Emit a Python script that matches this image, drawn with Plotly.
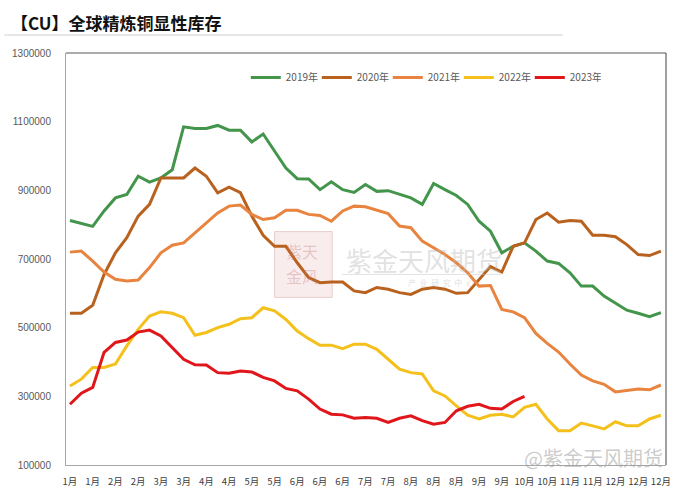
import plotly.graph_objects as go

weeks = list(range(53))
tick_labels = ["1月", "1月", "2月", "2月", "3月", "3月", "4月", "4月", "5月", "5月",
               "6月", "6月", "6月", "7月", "7月", "8月", "8月", "8月", "9月", "9月",
               "10月", "10月", "11月", "11月", "12月", "12月", "12月"]

y2019 = [812, 804, 795, 840, 878, 888, 941, 924, 936, 960, 1085, 1080, 1080, 1089, 1075, 1075,
         1041, 1064, 1014, 965, 934, 933, 902, 925, 902, 894, 917, 897, 899, 888, 878, 859,
         920, 902, 885, 859, 810, 781, 718, 737, 747, 723, 694, 687, 660, 621, 621, 592, 571,
         551, 542, 532, 544]
y2020 = [542, 542, 565, 655, 718, 762, 825, 859, 936, 936, 936, 965, 941, 893, 909, 893, 825,
         769, 737, 737, 689, 646, 631, 633, 633, 607, 602, 617, 612, 602, 597, 612, 617, 612,
         600, 602, 641, 678, 662, 737, 747, 815, 834, 807, 812, 810, 769, 769, 765, 742, 713,
         710, 723]
y2021 = [720, 723, 694, 662, 641, 636, 639, 675, 718, 740, 747, 776, 805, 834, 854, 857, 830,
         815, 820, 842, 842, 830, 827, 810, 840, 854, 852, 841, 832, 796, 791, 752, 733, 713,
         689, 660, 621, 623, 553, 546, 529, 483, 454, 429, 394, 362, 345, 335, 313, 318, 321,
         319, 333]
y2022 = [330, 350, 384, 384, 394, 447, 495, 534, 546, 542, 529, 478, 486, 500, 510, 526, 529,
         558, 549, 524, 490, 468, 449, 449, 439, 452, 452, 437, 408, 379, 369, 365, 316, 301,
         272, 245, 234, 245, 248, 240, 268, 277, 234, 200, 200, 222, 214, 205, 226, 214, 214,
         234, 245]
y2023 = [277, 309, 326, 428, 457, 464, 487, 493, 476, 442, 408, 392, 391, 369, 367, 374, 371,
         355, 345, 323, 316, 292, 263, 248, 246, 236, 238, 236, 224, 236, 243, 229, 219, 224,
         258, 271, 277, 265, 263, 285, 300]

series = [
    ("2019年", y2019, "#43954b"),
    ("2020年", y2020, "#b9621f"),
    ("2021年", y2021, "#e8843f"),
    ("2022年", y2022, "#f4c01c"),
    ("2023年", y2023, "#e0161b"),
]

fig = go.Figure()
for name, vals, color in series:
    fig.add_trace(go.Scatter(
        x=weeks[:len(vals)], y=[v * 1000 for v in vals], mode="lines", name=name,
        line=dict(color=color, width=3), hoverinfo="skip"))

cjk = "Noto Sans CJK SC, Liberation Sans, sans-serif"

fig.update_layout(
    width=684, height=500,
    margin=dict(l=62, r=18, t=53, b=34),
    paper_bgcolor="white", plot_bgcolor="white",
    font=dict(family=cjk, color="#595959", size=10),
    showlegend=True,
    legend=dict(orientation="h", x=(243 - 62) / 604, y=1 - 10 / 413, xanchor="left",
                yanchor="top", entrywidth=26, entrywidthmode="pixels", itemwidth=30,
                font=dict(size=10, color="#595959"), bgcolor="rgba(0,0,0,0)",
                tracegroupgap=0),
    xaxis=dict(range=[-0.35, 52.45], tickmode="array", tickvals=list(range(0, 53, 2)),
               ticktext=tick_labels, showgrid=False, zeroline=False, showline=True,
               linecolor="#a6a6a6", linewidth=1, ticks="", tickangle=0,
               ticklabelstandoff=8,
               tickfont=dict(size=9.5, color="#404040", family=cjk)),
    yaxis=dict(range=[100000, 1300000], tickmode="array",
               tickvals=list(range(100000, 1300001, 200000)),
               ticktext=[str(v) for v in range(100000, 1300001, 200000)],
               showgrid=False, zeroline=False, showline=True, linecolor="#a6a6a6",
               linewidth=1, ticks="", ticklabelstandoff=12,
               tickfont=dict(size=10, color="#595959", family="Liberation Sans, sans-serif")),
)

# plot-area border (top and right)
fig.add_shape(type="line", xref="paper", yref="paper", x0=0, x1=1, y0=1, y1=1,
              line=dict(color="#595959", width=1))
fig.add_shape(type="line", xref="paper", yref="paper", x0=1, x1=1, y0=0, y1=1,
              line=dict(color="#404040", width=1))

# title and underline
fig.add_annotation(text="<b>【CU】全球精炼铜显性库存</b>", xref="paper", yref="paper",
                   x=-57 / 604, y=1 + 31 / 413, xanchor="left", yanchor="middle",
                   showarrow=False, font=dict(size=17, color="#111111", family=cjk))
fig.add_shape(type="line", xref="paper", yref="paper", x0=-62 / 604, x1=500 / 604,
              y0=1 + 18 / 413, y1=1 + 18 / 413, line=dict(color="#e6e6e6", width=2))

# central watermark
fig.add_shape(type="rect", xref="paper", yref="paper",
              x0=(272 - 62) / 604, x1=(330 - 62) / 604,
              y0=(466 - 298) / 413, y1=(466 - 232) / 413,
              line=dict(color="rgba(215,160,160,0.45)", width=1),
              fillcolor="rgba(225,170,170,0.22)", layer="below")
fig.add_annotation(text="紫天", xref="paper", yref="paper",
                   x=(300 - 62) / 604, y=(466 - 251) / 413, showarrow=False,
                   font=dict(size=16, color="rgba(200,120,120,0.35)", family=cjk))
fig.add_annotation(text="金风", xref="paper", yref="paper",
                   x=(300 - 62) / 604, y=(466 - 277) / 413, showarrow=False,
                   font=dict(size=16, color="rgba(200,120,120,0.35)", family=cjk))
fig.add_annotation(text="紫金天风期货", xref="paper", yref="paper",
                   x=(422 - 62) / 604, y=(466 - 260) / 413, showarrow=False,
                   font=dict(size=26, color="rgba(190,190,190,0.45)", family=cjk))
fig.add_annotation(text="产  业  研  究  中  心", xref="paper", yref="paper",
                   x=(440 - 62) / 604, y=(466 - 283) / 413, showarrow=False,
                   font=dict(size=8, color="rgba(190,190,190,0.5)", family=cjk))
fig.add_shape(type="line", xref="paper", yref="paper", x0=(340 - 62) / 604,
              x1=(500 - 62) / 604, y0=(466 - 275) / 413, y1=(466 - 275) / 413,
              line=dict(color="rgba(200,200,200,0.5)", width=1))

# bottom-right watermark
fig.add_annotation(text="@紫金天风期货", xref="paper", yref="paper",
                   x=(665 - 62) / 604, y=(466 - 458) / 413, xanchor="right",
                   yanchor="middle", showarrow=False,
                   font=dict(size=20, color="rgba(160,160,160,0.55)", family=cjk))

fig.write_html("out.html")
